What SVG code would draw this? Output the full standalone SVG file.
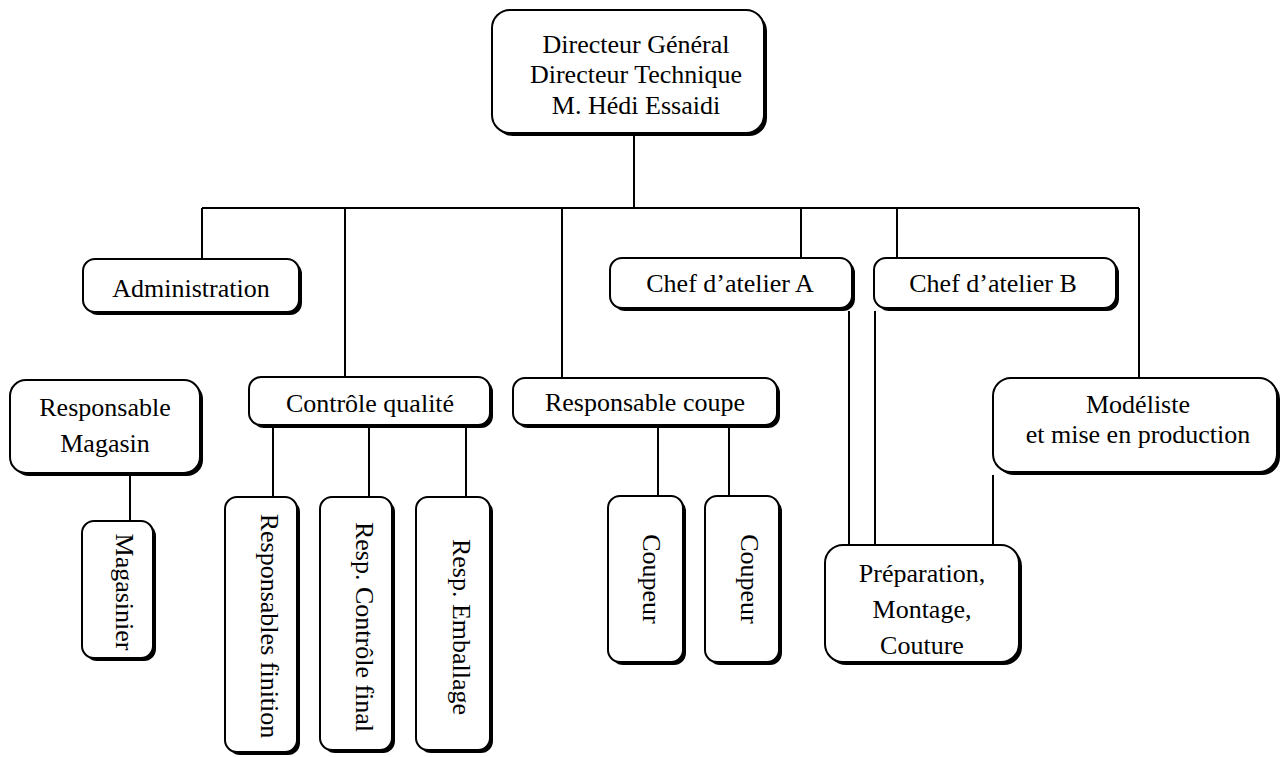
<svg xmlns="http://www.w3.org/2000/svg" width="1285" height="757" viewBox="0 0 1285 757">
<style>
.sh{fill:#000}
.bx{fill:#fff;stroke:#000;stroke-width:2}
.t{font-family:"Liberation Serif","Times New Roman",serif;font-size:26px;fill:#000;text-anchor:middle}
.c{stroke:#000;stroke-width:2;fill:none}
</style>
<rect width="1285" height="757" fill="#fff"/>
<g id="connectors">
<path class="c" d="M634 135V208M202 208H1139M202 208V259M345 208V377M562 208V378M801 208V258M897 208V258M1139 208V378"/>
<path class="c" d="M130 476V521M273 428V497M369 428V497M466 428V497M658 428V496M729 428V496"/>
<path class="c" d="M849 311V545M875 311V545M993 475V545"/>
</g>
<g id="n-directeur">
<rect class="sh" x="495" y="13" width="272" height="123" rx="18"/>
<rect class="bx" x="492" y="10" width="272" height="123" rx="18"/>
<text class="t" x="636" y="53">Directeur Général</text>
<text class="t" x="636" y="83">Directeur Technique</text>
<text class="t" x="636" y="114">M. Hédi Essaidi</text>
</g>
<g id="n-administration">
<rect class="sh" x="86" y="262" width="216" height="53" rx="12"/>
<rect class="bx" x="83" y="259" width="216" height="53" rx="12"/>
<text class="t" x="191" y="297">Administration</text>
</g>
<g id="n-chefA">
<rect class="sh" x="613" y="261" width="242" height="50" rx="12"/>
<rect class="bx" x="610" y="258" width="242" height="50" rx="12"/>
<text class="t" x="730" y="292">Chef d’atelier A</text>
</g>
<g id="n-chefB">
<rect class="sh" x="877" y="261" width="242" height="50" rx="12"/>
<rect class="bx" x="874" y="258" width="242" height="50" rx="12"/>
<text class="t" x="993" y="292">Chef d’atelier B</text>
</g>
<g id="n-respMagasin">
<rect class="sh" x="13" y="383" width="190" height="93" rx="16"/>
<rect class="bx" x="10" y="380" width="190" height="93" rx="16"/>
<text class="t" x="105" y="416">Responsable</text>
<text class="t" x="105" y="452">Magasin</text>
</g>
<g id="n-controle">
<rect class="sh" x="252" y="380" width="241" height="48" rx="12"/>
<rect class="bx" x="249" y="377" width="241" height="48" rx="12"/>
<text class="t" x="370" y="412">Contrôle qualité</text>
</g>
<g id="n-coupe">
<rect class="sh" x="516" y="381" width="264" height="47" rx="12"/>
<rect class="bx" x="513" y="378" width="264" height="47" rx="12"/>
<text class="t" x="645" y="411">Responsable coupe</text>
</g>
<g id="n-modeliste">
<rect class="sh" x="996" y="381" width="284" height="94" rx="18"/>
<rect class="bx" x="993" y="378" width="284" height="94" rx="18"/>
<text class="t" x="1138" y="413">Modéliste</text>
<text class="t" x="1138" y="443">et mise en production</text>
</g>
<g id="n-magasinier">
<rect class="sh" x="85" y="524" width="71" height="137" rx="12"/>
<rect class="bx" x="82" y="521" width="71" height="137" rx="12"/>
<text class="t" transform="translate(116 592) rotate(90)">Magasinier</text>
</g>
<g id="n-finition">
<rect class="sh" x="228" y="500" width="72" height="255" rx="12"/>
<rect class="bx" x="225" y="497" width="72" height="255" rx="12"/>
<text class="t" transform="translate(261 626) rotate(90)">Responsables finition</text>
</g>
<g id="n-controleFinal">
<rect class="sh" x="323" y="500" width="72" height="253" rx="12"/>
<rect class="bx" x="320" y="497" width="72" height="253" rx="12"/>
<text class="t" transform="translate(356 627) rotate(90)">Resp. Contrôle  final</text>
</g>
<g id="n-emballage">
<rect class="sh" x="419" y="500" width="74" height="253" rx="12"/>
<rect class="bx" x="416" y="497" width="74" height="253" rx="12"/>
<text class="t" transform="translate(453 627) rotate(90)">Resp. Emballage</text>
</g>
<g id="n-coupeur1">
<rect class="sh" x="611" y="499" width="75" height="166" rx="12"/>
<rect class="bx" x="608" y="496" width="75" height="166" rx="12"/>
<text class="t" transform="translate(643 579) rotate(90)">Coupeur</text>
</g>
<g id="n-coupeur2">
<rect class="sh" x="708" y="499" width="74" height="166" rx="12"/>
<rect class="bx" x="705" y="496" width="74" height="166" rx="12"/>
<text class="t" transform="translate(741 579) rotate(90)">Coupeur</text>
</g>
<g id="n-preparation">
<rect class="sh" x="828" y="548" width="194" height="117" rx="18"/>
<rect class="bx" x="825" y="545" width="194" height="117" rx="18"/>
<text class="t" x="922" y="582">Préparation,</text>
<text class="t" x="922" y="618">Montage,</text>
<text class="t" x="922" y="654">Couture</text>
</g>
</svg>
